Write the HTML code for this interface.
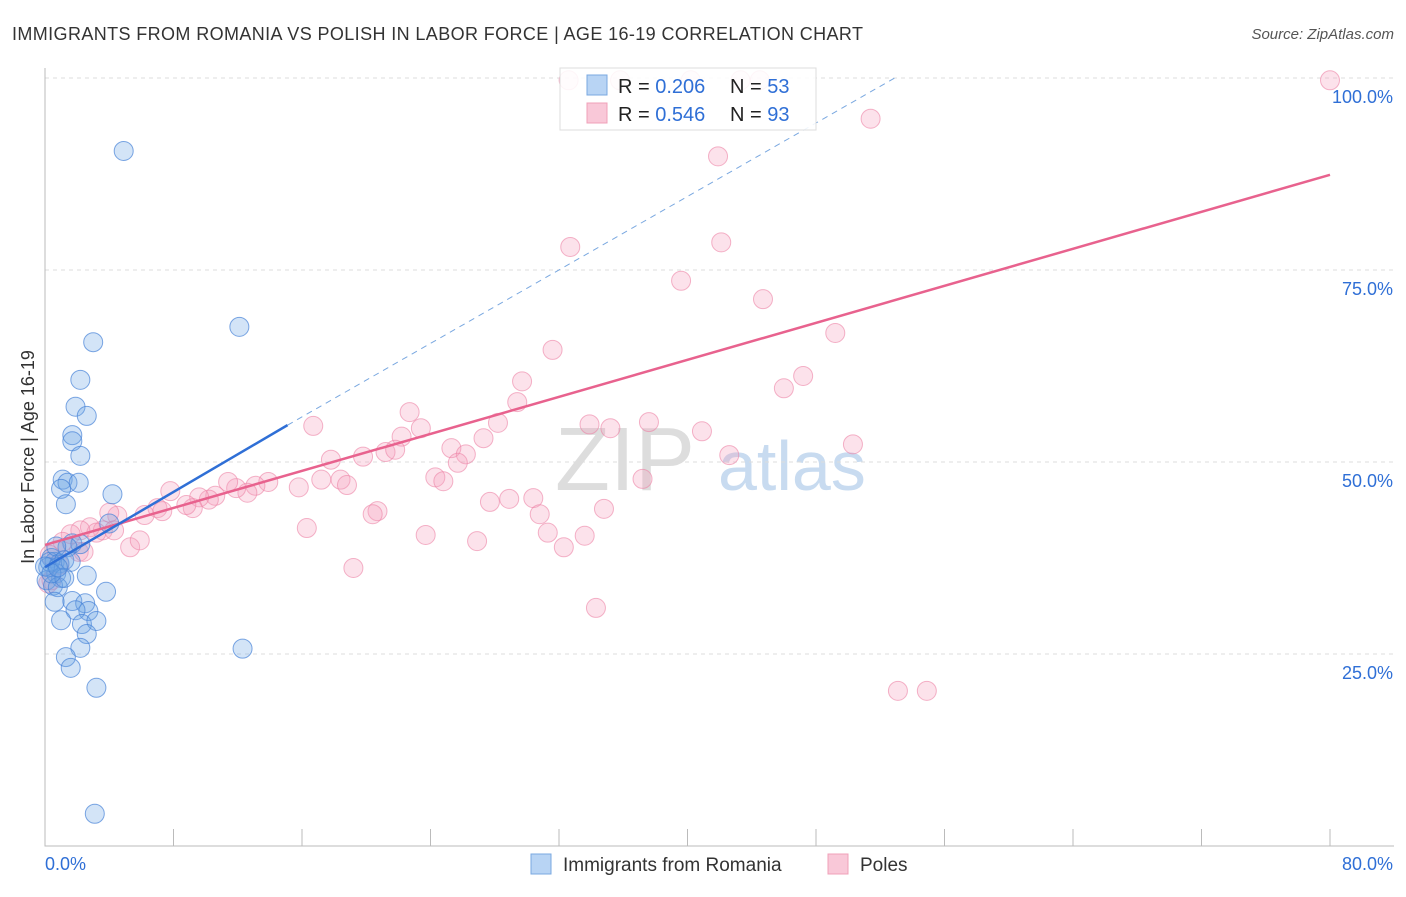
<!DOCTYPE html>
<html><head><meta charset="utf-8"><style>
body{margin:0;background:#fff;font-family:"Liberation Sans",sans-serif;}
svg text{font-family:"Liberation Sans",sans-serif;}
</style></head><body>
<svg id="c" width="1406" height="892">
<text x="12" y="40" font-size="18" fill="#333" textLength="851">IMMIGRANTS FROM ROMANIA VS POLISH IN LABOR FORCE | AGE 16-19 CORRELATION CHART</text>
<text x="1394" y="39" font-size="15" fill="#555" font-style="italic" text-anchor="end">Source: ZipAtlas.com</text>
<text x="34" y="457" font-size="18" fill="#333" text-anchor="middle" transform="rotate(-90 34 457)">In Labor Force | Age 16-19</text>
<text x="555" y="490" font-size="90" fill="#ddd" font-family="Liberation Serif">ZIP</text>
<text x="718" y="490" font-size="70" fill="#c8dbf0">atlas</text>
<g id="grid"></g><g id="marks"></g>
<g>
<rect x="560" y="68" width="256" height="62" fill="#fff" fill-opacity="0.88" stroke="#ddd"/>
<rect x="587" y="75" width="20" height="20" fill="#b8d4f4" stroke="#7aa8e0"/>
<rect x="587" y="103" width="20" height="20" fill="#f9c8d8" stroke="#f0a0b8"/>
<text x="618" y="93" font-size="20" fill="#222">R = <tspan fill="#2f6fd6">0.206</tspan><tspan x="730">N = </tspan><tspan fill="#2f6fd6">53</tspan></text>
<text x="618" y="121" font-size="20" fill="#222">R = <tspan fill="#2f6fd6">0.546</tspan><tspan x="730">N = </tspan><tspan fill="#2f6fd6">93</tspan></text>
</g>
<g>
<rect x="531" y="854" width="20" height="20" fill="#b8d4f4" stroke="#7aa8e0"/>
<text x="563" y="871" font-size="19" fill="#333">Immigrants from Romania</text>
<rect x="828" y="854" width="20" height="20" fill="#f9c8d8" stroke="#f0a0b8"/>
<text x="860" y="871" font-size="19" fill="#333">Poles</text>
</g>
<text x="45" y="870" font-size="18" fill="#2f6fd6">0.0%</text>
<text x="1393" y="870" font-size="18" fill="#2f6fd6" text-anchor="end">80.0%</text>
</svg>
<script>
const yTicks=[25,50,75,100];
const blueX=[4.9,12.1,3,2.2,1.9,2.6,1.7,1.7,2.2,1.1,1.4,2.1,1,4.2,1.3,4,1.7,2.2,1.4,0.4,0.6,0.9,0.2,0.7,1,0.1,0.5,0.8,2.6,3.8,0.6,1.7,2.5,2.7,1.9,1,2.3,3.2,2.6,2.2,1.3,1.6,3.2,12.3,3.1,0.3,0.7,1.2,0,1.6,1.2,0.4,0.8];
const blueY=[90.5,67.6,65.6,60.7,57.2,56,53.5,52.7,50.8,47.7,47.3,47.3,46.5,45.8,44.5,42,39.4,39.3,38.9,37.5,37,36.8,36.3,35.5,34.9,34.6,33.9,33.7,35.2,33.1,31.8,31.9,31.6,30.6,30.7,29.4,28.9,29.3,27.6,25.8,24.6,23.2,20.6,25.7,4.2,37,39,37.2,36.4,37,34.9,35.5,36.3];
const pinkX=[80,51.4,41.9,32.7,42.1,39.6,44.7,49.2,31.6,47.2,46,29.7,29.4,22.7,16.7,33.9,35.2,37.6,40.9,28.2,27.3,22.2,23.4,50.3,42.6,25.3,26.2,25.7,21.2,21.8,19.8,17.8,24.3,24.8,37.2,18.4,18.8,17.2,15.8,13.9,13.1,12.6,11.9,11.4,10.6,10.2,9.6,7.8,9.2,8.8,7,7.3,6.2,4.5,4,3.6,5.3,4.3,2.8,3.2,2.2,1.6,2.1,1.1,0.7,2.4,16.3,20.7,20.4,19.2,23.7,26.9,27.7,28.9,30.4,30.8,31.3,32.3,33.6,34.8,34.3,53.1,54.9,35.8,40.2,32.6,43.3,44.5,0.2,0.4,5.9,0.9,0.3];
const pinkY=[99.7,94.7,89.8,78,78.6,73.6,71.2,66.8,64.6,61.2,59.6,60.5,57.8,56.5,54.7,54.9,54.4,55.2,54,55.1,53.1,53.3,54.4,52.3,50.9,51.8,51,49.9,51.3,51.6,50.7,50.3,48,47.5,47.8,47.7,47,47.7,46.7,47.4,46.9,46,46.6,47.4,45.6,45.1,45.4,46.2,44,44.4,44,43.6,43.1,43,43.4,41.1,38.9,41.1,41.5,40.8,41.1,40.6,38.3,39.6,38.5,38.3,41.4,43.6,43.2,36.2,40.5,39.7,44.8,45.2,45.3,43.2,40.8,38.9,40.4,43.9,31,20.2,20.2,99.7,99.7,99.7,99.7,99.7,34.2,34.6,39.8,36.6,37.9];
const blueTrend=[[0,36.3],[15.1,54.8]];
const blueDash=[[15.1,54.8],[52.9,100]];
const pinkTrend=[[0,39.2],[80,87.4]];
const X0=45,X1=1330,Y0=846,Y1=78;
const sx=v=>X0+v*(X1-X0)/80, sy=v=>Y0-v*(Y0-Y1)/100;
const NS="http://www.w3.org/2000/svg";
function mk(p,t,a){const e=document.createElementNS(NS,t);for(const k in a)e.setAttribute(k,a[k]);p.appendChild(e);return e;}
const g=document.getElementById('grid'),m=document.getElementById('marks');
yTicks.forEach(t=>{
 const l=mk(g,'line',{x1:X0,x2:1394,y1:sy(t),y2:sy(t),stroke:'#ddd','stroke-dasharray':'4,4'});
 
 
 const tx=mk(g,'text',{x:1393,y:sy(t)+25,'font-size':18,fill:'#2f6fd6','text-anchor':'end'});
 tx.textContent=t.toFixed(1)+'%';
 
 
});
const ax=mk(g,'path',{d:`M${X0} 68V${Y0}H1394`,stroke:'#bbb',fill:'none'});


for(let i=0;i<=10;i++){const t=mk(g,'line',{x1:sx(i*8),x2:sx(i*8),y1:Y0-17,y2:Y0,stroke:'#bbb'});
 
 }
pinkX.forEach((x,i)=>{const c=mk(m,'circle',{cx:sx(x),cy:sy(pinkY[i]),r:9.5,fill:'rgba(244,160,188,0.3)',stroke:'rgba(236,130,165,0.6)'});
 
 });
blueX.forEach((x,i)=>{const c=mk(m,'circle',{cx:sx(x),cy:sy(blueY[i]),r:9.5,fill:'rgba(110,165,230,0.3)',stroke:'rgba(70,130,215,0.7)'});
 
 });
function ln(p,st,dash,name){const l=mk(m,'line',{x1:sx(p[0][0]),y1:sy(p[0][1]),x2:sx(p[1][0]),y2:sy(p[1][1]),stroke:st,'stroke-width':dash?1:2.5});
 if(dash)l.setAttribute('stroke-dasharray','6,5');
 
 }
ln(pinkTrend,'#e8628e',false,'poles-trendline');
ln(blueTrend,'#2f6fd6',false,'romania-trendline');
ln(blueDash,'#7aa8e0',true,'romania-trendline-extension');
</script>
</body></html>
